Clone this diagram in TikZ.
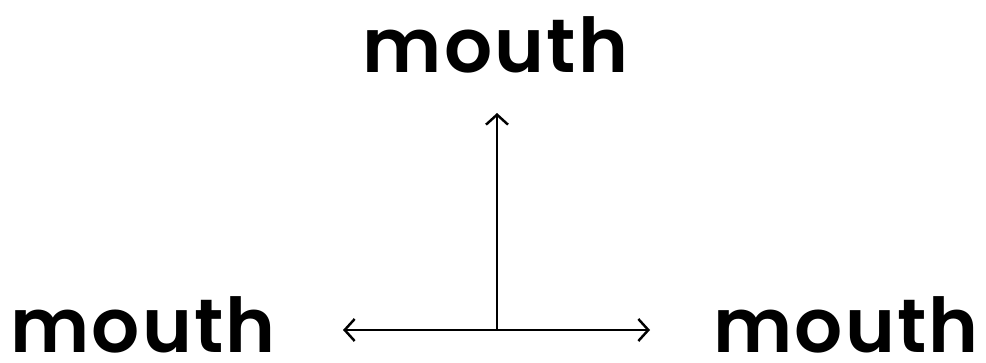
\documentclass[tikz,border=0pt]{standalone}
\usepackage{fontspec}
\setmainfont{Poppins}[UprightFont=* SemiBold, BoldFont=* Bold, LetterSpace=3]
\usetikzlibrary{arrows.meta,positioning}

\begin{document}
\begin{tikzpicture}[
    word/.style={inner sep=0pt, anchor=base, font=\fontsize{43}{43}\selectfont},
    link/.style={line width=1.4pt, -{Straight Barb[length=2mm, width=4.4mm, line width=1.4pt]}}
]
    \useasboundingbox (0,0) rectangle (19.72,7.24);
    % Words
    \node[word] (top) at (9.91,5.78) {mouth};
    \node[word] (left) at (2.86,0.2) {mouth};
    \node[word] (right) at (16.92,0.2) {mouth};

    % Junction and arrow ends
    \coordinate (hub) at (9.94,0.64);
    \coordinate (uptip) at (9.94,4.98);
    \coordinate (lefttip) at (6.86,0.64);
    \coordinate (righttip) at (13.0,0.64);

    % Arrows
    \draw[link] (hub) -- (uptip);
    \draw[link] (hub) -- (lefttip);
    \draw[link] (hub) -- (righttip);
\end{tikzpicture}
\end{document}
